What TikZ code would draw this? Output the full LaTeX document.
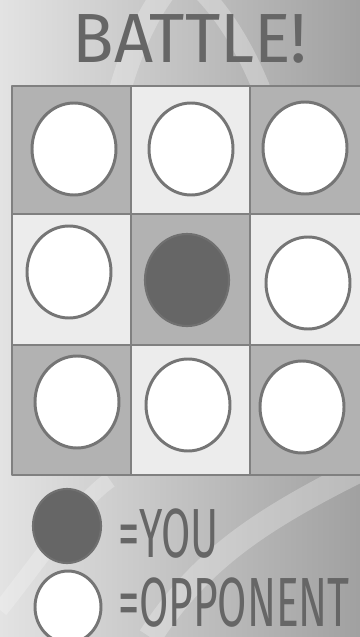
\documentclass[tikz,border=0pt]{standalone}
\usepackage{fontspec}
\setmainfont{Fira Sans}
\usetikzlibrary{shapes.geometric}
\definecolor{BoardInk}{gray}{0.40}
\definecolor{BoardEdge}{gray}{0.50}
\definecolor{BoardDark}{gray}{0.70}
\definecolor{BoardLight}{gray}{0.925}
\definecolor{BoardBackL}{gray}{0.89}
\definecolor{BoardBackR}{gray}{0.63}
\definecolor{BoardSwirl}{gray}{0.97}
\definecolor{PieceRim}{gray}{0.46}
\definecolor{PieceDarkRim}{gray}{0.44}
\tikzset{
    board/picture/.style={
        x=0.05cm, y=-0.05cm,
        line join=round,
        every node/.style={inner sep=0pt, outer sep=0pt}
    },
    board/cell0/.style={fill=BoardDark, draw=BoardEdge, line width=2.8pt},
    board/cell1/.style={fill=BoardLight, draw=BoardEdge, line width=2.8pt},
    board/swirl/.style={draw=BoardSwirl, opacity=0.3},
    board/piece/.style={
        ellipse, draw=PieceRim, line width=4.2pt,
        minimum width=4.2cm, minimum height=4.6cm
    },
    board/opponent/.style={board/piece, fill=white},
    board/you/.style={board/piece, fill=BoardInk, draw=PieceDarkRim, line width=3pt},
    board/title/.style={text=BoardInk, font=\fontsize{99}{99}\selectfont, anchor=base},
    board/legend/.style={text=BoardInk, font=\fontsize{99}{99}\selectfont, anchor=base west}
}
\begin{document}
\begin{tikzpicture}[board/picture]
    \useasboundingbox (0,0) rectangle (360,637);
    \clip (0,0) rectangle (360,637);
    \shade[left color=BoardBackL, right color=BoardBackR] (0,0) rectangle (360,637);
    \draw[board/swirl, line width=1.1cm] (120,90) .. controls (140,20) and (165,-10) .. (175,-20);
    \draw[board/swirl, line width=0.9cm] (200,-10) .. controls (230,20) and (250,60) .. (262,90);
    \draw[board/swirl, line width=1.2cm] (150,637) .. controls (200,560) and (260,520) .. (360,470);
    \draw[board/swirl, line width=0.8cm] (0,610) .. controls (40,560) and (80,500) .. (110,480);
    \node[board/title] (title) at (190,63) {\scalebox{0.98}[1]{BATTLE!}};
    \foreach \r/\ya/\yb in {1/86/214, 2/214/345, 3/345/475} {
        \foreach \c/\xa/\xb in {1/12/131, 2/131/250, 3/250/372} {
            \pgfmathtruncatemacro\shade{mod(\r+\c,2)}
            \draw[board/cell\shade] (\xa,\ya) rectangle (\xb,\yb);
        }
    }
    \foreach \cx/\cy/\name in {74/149/p11, 191/149/p12, 305/148/p13,
                               69/272/p21, 308/283/p23,
                               77/402/p31, 188/405/p32, 302/407/p33} {
        \node[board/opponent] (\name) at (\cx,\cy) {};
    }
    \node[board/you] (p22) at (187,280) {};
    \node[board/you, minimum width=3.4cm, minimum height=3.7cm] (keyyou) at (67,526) {};
    \node[board/opponent, minimum width=3.3cm, minimum height=3.6cm] (keyopp) at (68,607) {};
    \node[board/legend] (youtext) at (118,557) {\scalebox{0.61}[1]{=YOU}};
    \node[board/legend] (opptext) at (118,626) {\scalebox{0.61}[1]{=OPPONENT}};
\end{tikzpicture}
\end{document}
